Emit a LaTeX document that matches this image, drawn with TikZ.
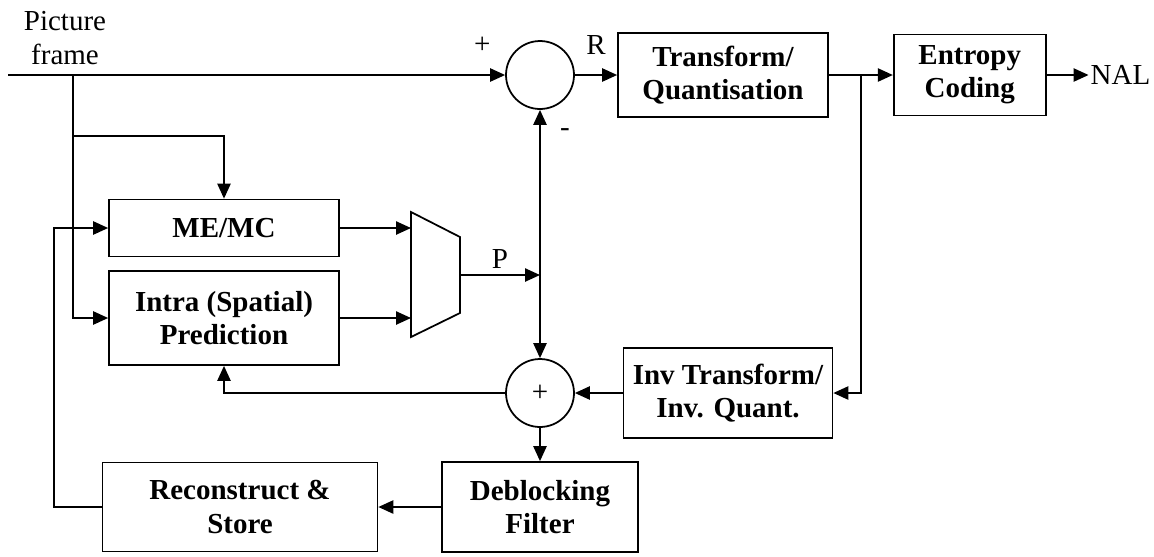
\documentclass[tikz,border=0pt]{standalone}
\usepackage{fontspec}
\setmainfont{Liberation Serif}
\usetikzlibrary{arrows.meta,positioning,calc}

\begin{document}
\begin{tikzpicture}[
    x=0.02cm, y=-0.02cm,
    font=\fontsize{16.5}{19}\selectfont,
    >={Triangle[length=8.5pt,width=7.5pt]},
    blk/.style={draw, line width=1pt, align=center, inner sep=2pt,
                font=\fontsize{16.5}{19}\selectfont\bfseries},
    adder/.style={draw, circle, line width=1pt, minimum size=1.36cm, inner sep=0pt},
    flow/.style={->, line width=1pt},
    wire/.style={line width=1pt},
    lbl/.style={inner sep=1pt},
  ]
  \useasboundingbox (0,0) rectangle (1154,556);

  % --- forward path ---------------------------------------------------------
  \node[lbl, align=center] (pic) at (65,38) {Picture\\frame};
  \coordinate (in) at (8,75);
  \coordinate (br) at (73,75);
  \coordinate (br2) at (73,136);
  \node[adder] (sum1) at (540,75) {};
  \node[blk, minimum width=4.2cm, minimum height=1.68cm] (tq) at (723,75) {Transform/\\Quantisation};
  \node[blk, minimum width=3.04cm, minimum height=1.62cm, right=1.28cm of tq] (ec) {Entropy\\Coding};
  \node[lbl, right=0.84cm of ec] (nal) {NAL};
  \coordinate (tap) at ($(tq.east)!0.5!(ec.west)$);

  \draw[flow] (in) -- node[lbl, pos=0.954, above=10.5pt] {+} (sum1);
  \draw[flow] (sum1) -- node[lbl, above=10pt] {R} (tq);
  \draw[flow] (tq) -- (ec);
  \draw[flow] (ec) -- (nal);

  % --- prediction -----------------------------------------------------------
  \node[blk, minimum width=4.6cm, minimum height=1.14cm] (memc) at (224,228) {ME/MC};
  \node[blk, minimum width=4.6cm, minimum height=1.88cm] (intra) at (224,318) {Intra (Spatial)\\Prediction};
  \coordinate (mux-tl) at (411,212);
  \coordinate (mux-tr) at (460,237);
  \coordinate (mux-br) at (460,313);
  \coordinate (mux-bl) at (411,337);
  \coordinate (muxout) at (460,275);
  \coordinate (pj) at (540,275);
  \draw[wire] (mux-tl) -- (mux-tr) -- (mux-br) -- (mux-bl) -- cycle;

  \draw[flow] (br2) -| (memc.north);
  \draw[flow] (br) |- (intra.west);
  \draw[flow] (memc.east) -- (memc.east -| mux-tl);
  \draw[flow] (intra.east) -- (intra.east -| mux-tl);
  \draw[flow] (muxout) -- node[lbl, above=2pt] {P} (pj);
  \draw[flow] (pj) -- node[lbl, pos=0.862, right=10pt] {-} (sum1.south);

  % --- reconstruction loop --------------------------------------------------
  \node[adder] (sum2) at (540,393) {+};
  \node[blk, minimum width=4.18cm, minimum height=1.8cm] (inv) at (728,393) {Inv Transform/\\Inv. Quant.};
  \node[blk, minimum width=3.92cm, minimum height=1.8cm] (dbf) at (540,507) {Deblocking\\Filter};
  \node[blk, minimum width=5.5cm, minimum height=1.78cm] (rec) at (240,507) {Reconstruct \&\\Store};

  \draw[flow] (pj) -- (sum2.north);
  \draw[flow] (tap) |- (inv.east);
  \draw[flow] (inv) -- (sum2);
  \draw[flow] (sum2.west) -| (intra.south);
  \draw[flow] (sum2) -- (dbf);
  \draw[flow] (dbf) -- (rec);
  \draw[flow] (rec.west) -- ++(-48,0) |- (memc.west);
\end{tikzpicture}
\end{document}
